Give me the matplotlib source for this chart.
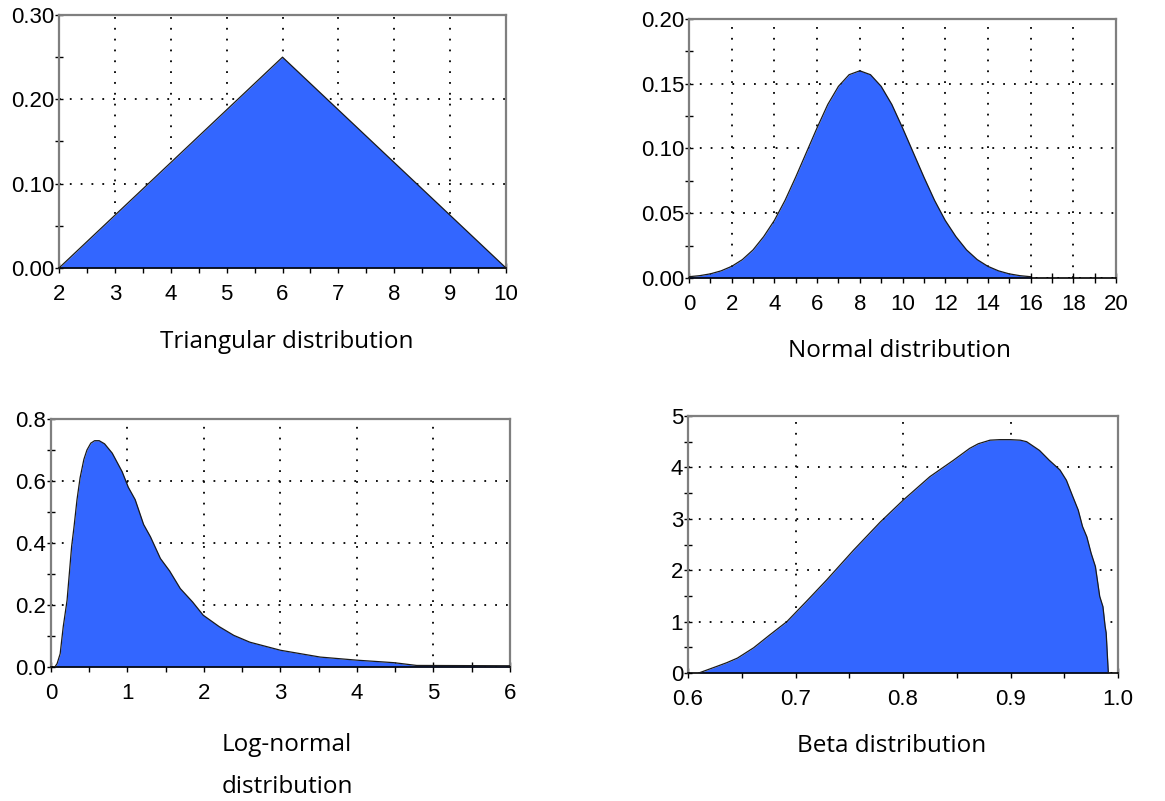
import numpy as np
import matplotlib
matplotlib.use("Agg")
import matplotlib.pyplot as plt
from matplotlib.ticker import MultipleLocator, FormatStrFormatter

# values
tri_x = [2, 6, 10]
tri_y = [0.0, 0.25, 0.0]

norm_x = [0, 0.5, 1, 1.5, 2, 2.5, 3, 3.5, 4, 4.5, 5, 5.5, 6, 6.5, 7, 7.5, 8,
          8.5, 9, 9.5, 10, 10.5, 11, 11.5, 12, 12.5, 13, 13.5, 14, 14.5, 15, 15.5, 16]
norm_y = [0.001, 0.0018, 0.0032, 0.0055, 0.009, 0.0142, 0.0217, 0.032, 0.0445, 0.060,
          0.078, 0.097, 0.116, 0.134, 0.148, 0.157, 0.160, 0.157, 0.148, 0.134, 0.116,
          0.097, 0.078, 0.060, 0.0445, 0.032, 0.0217, 0.0142, 0.009, 0.0055, 0.0032,
          0.0018, 0.001]

logn_x = [0.05, 0.08, 0.12, 0.16, 0.21, 0.27, 0.30, 0.34, 0.38, 0.43, 0.47, 0.52, 0.57,
          0.63, 0.70, 0.80, 0.93, 1.01, 1.1, 1.21, 1.3, 1.43, 1.55, 1.69, 1.85, 1.99,
          2.2, 2.39, 2.6, 3.0, 3.52, 4.0, 4.48, 4.78, 6.0]
logn_y = [0.0, 0.011, 0.043, 0.13, 0.215, 0.39, 0.45, 0.54, 0.61, 0.67, 0.70, 0.722, 0.73,
          0.73, 0.72, 0.69, 0.63, 0.58, 0.54, 0.46, 0.42, 0.35, 0.31, 0.253, 0.21, 0.167,
          0.13, 0.102, 0.08, 0.054, 0.032, 0.022, 0.014, 0.005, 0.004]

beta_x = [0.61, 0.627, 0.636, 0.646, 0.661, 0.676, 0.692, 0.71, 0.729, 0.754, 0.779, 0.80,
          0.825, 0.847, 0.862, 0.870, 0.881, 0.89, 0.90, 0.909, 0.915, 0.927, 0.936,
          0.946, 0.952, 0.958, 0.963, 0.967, 0.971, 0.975, 0.979, 0.983, 0.986, 0.988,
          0.989, 0.990, 0.991]
beta_y = [0.0, 0.13, 0.20, 0.29, 0.49, 0.74, 1.0, 1.39, 1.81, 2.39, 2.94, 3.36, 3.82, 4.14,
          4.37, 4.46, 4.53, 4.54, 4.54, 4.53, 4.50, 4.33, 4.14, 3.95, 3.75, 3.43, 3.17,
          2.85, 2.65, 2.33, 2.07, 1.49, 1.29, 0.91, 0.78, 0.39, 0.0]

captions = ["Triangular distribution", "Normal distribution",
            "Log-normal\n\ndistribution", "Beta distribution"]

fill_color = "#3366ff"
W, H = 1165, 801

fig = plt.figure(figsize=(W / 100, H / 100), dpi=100)


def make_ax(l, r, t, b):
    return fig.add_axes([l / W, 1 - b / H, (r - l) / W, (b - t) / H])


def style(ax, xlim, ylim, xmaj, xmin, ymaj, ymin, xfmt, yfmt):
    ax.set_xlim(*xlim)
    ax.set_ylim(*ylim)
    ax.xaxis.set_major_locator(MultipleLocator(xmaj))
    ax.xaxis.set_minor_locator(MultipleLocator(xmin))
    ax.yaxis.set_major_locator(MultipleLocator(ymaj))
    ax.yaxis.set_minor_locator(MultipleLocator(ymin))
    ax.xaxis.set_major_formatter(FormatStrFormatter(xfmt))
    ax.yaxis.set_major_formatter(FormatStrFormatter(yfmt))
    ax.set_axisbelow(True)
    ax.grid(True, which="major", color="black", linewidth=1.3,
            linestyle=(0, (1, 5)))
    for side in ["left", "top", "right"]:
        ax.spines[side].set_color("#7f7f7f")
        ax.spines[side].set_linewidth(1.6)
    ax.spines["bottom"].set_color("black")
    ax.spines["bottom"].set_linewidth(1.2)
    ax.tick_params(axis="x", which="both", direction="inout", length=7, width=1,
                   colors="black", pad=8, labelsize=16,
                   labelfontfamily="Liberation Sans")
    ax.tick_params(axis="y", which="both", direction="inout", length=6, width=1,
                   colors="black", pad=0.5, labelsize=16,
                   labelfontfamily="Liberation Sans")


def draw(ax, x, y):
    ax.fill_between(x, y, 0, color=fill_color, linewidth=0, zorder=2)
    ax.plot(x, y, color="#1a1a1a", linewidth=0.9, zorder=3)


ax1 = make_ax(59, 506, 15, 268)
draw(ax1, tri_x, tri_y)
style(ax1, (2, 10), (0, 0.30), 1, 0.5, 0.10, 0.05, "%d", "%.2f")

ax2 = make_ax(689, 1116, 19, 278)
draw(ax2, norm_x, norm_y)
style(ax2, (0, 20), (0, 0.20), 2, 1, 0.05, 0.025, "%d", "%.2f")

ax3 = make_ax(51, 510, 419, 667)
draw(ax3, logn_x, logn_y)
style(ax3, (0, 6), (0, 0.8), 1, 0.5, 0.2, 0.1, "%d", "%.1f")

ax4 = make_ax(688, 1118, 416, 673)
draw(ax4, beta_x, beta_y)
style(ax4, (0.6, 1.0), (0, 5), 0.1, 0.05, 1, 0.5, "%.1f", "%d")

cap_pos = [(287, 342), (900, 351), (287, 766), (892, 746)]
for (cx, cy), text in zip(cap_pos, captions):
    fig.text(cx / W, 1 - cy / H, text, ha="center", va="center",
             fontsize=17.5, fontfamily="Open Sans", linespacing=0.85)

fig.savefig("out.png", dpi=100)
